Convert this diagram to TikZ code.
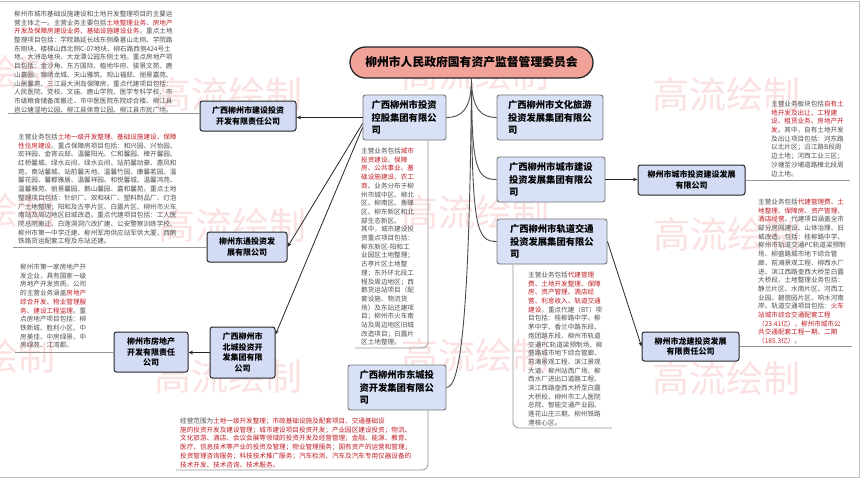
\documentclass[tikz,border=0pt]{standalone}
\usepackage{fontspec}
\setmainfont{Noto Sans CJK SC}
\usetikzlibrary{arrows.meta}
\definecolor{rootfill}{RGB}{242,163,153}
\definecolor{lonefill}{RGB}{216,225,246}
\definecolor{ltwofill}{RGB}{212,220,245}
\definecolor{desctext}{RGB}{80,80,80}
\definecolor{descred}{RGB}{192,30,38}
\definecolor{wmcol}{RGB}{251,226,226}
\definecolor{framegray}{RGB}{150,150,150}
\newcommand{\redtxt}[1]{\textcolor{descred}{#1}}
\begin{document}
\begin{tikzpicture}[x=1pt,y=-1pt,
 rootbox/.style={draw=black!85, line width=1.3pt, fill=rootfill, rounded corners=15.5pt, minimum width=243pt, minimum height=31pt, font=\fontsize{11.8}{14}\selectfont\bfseries, inner sep=0pt},
 lone/.style={draw=black!55, line width=0.9pt, fill=lonefill, rounded corners=2.5pt, align=left, inner sep=0pt, minimum height=45pt, font=\fontsize{9.3}{12.6}\selectfont\bfseries},
 ltwo/.style={draw=black!85, line width=1pt, fill=ltwofill, rounded corners=2.5pt, align=center, inner sep=0pt, font=\fontsize{8}{10.8}\selectfont\bfseries},
 desc/.style={anchor=north west, inner sep=0pt, align=left, text=desctext, font=\fontsize{6.6}{8.7}\selectfont},
 wm/.style={text=wmcol, font=\fontsize{37}{40}\selectfont, inner sep=0pt},
 arr/.style={draw=black!85, line width=0.8pt, -{Stealth[length=4.5pt,width=3.6pt]}},
 curve/.style={draw=black!70, line width=0.9pt},
 frame/.style={draw=framegray, line width=0.8pt}
]
\useasboundingbox (0,0) rectangle (861,479);
\fill[white] (0,0) rectangle (861,479);
% watermarks
\node[wm] (w11) at (-18,72) {高流绘制};
\node[wm] (w12) at (228,94) {高流绘制};
\node[wm] (w13) at (475,73) {高流绘制};
\node[wm] (w14) at (726,94) {高流绘制};
\node[wm] (w21) at (-18,210) {高流绘制};
\node[wm] (w22) at (232,225) {高流绘制};
\node[wm] (w23) at (475,212) {高流绘制};
\node[wm] (w24) at (727,234) {高流绘制};
\node[wm] (w31) at (-18,356) {高流绘制};
\node[wm] (w32) at (228,376) {高流绘制};
\node[wm] (w33) at (475,355) {高流绘制};
\node[wm] (w34) at (726,378) {高流绘制};
% outer border
\draw[black!25, line width=0.6pt] (0,1) -- (859,1) -- (859,477) -- (0,477);

% root
\node[rootbox] (root) at (471.5,62.5) {柳州市人民政府国有资产监督管理委员会};
% level one
\node[lone, text width=66pt, minimum width=83pt] (A) at (404.5,117.5) {广西柳州市投资\\控股集团有限公\\司};
\node[lone, text width=84pt, minimum width=106pt] (B) at (550,117.5) {广西柳州市文化旅游\\投资发展集团有限公\\司};
\node[lone, text width=84pt, minimum width=108pt] (C) at (551,179.5) {广西柳州市城市建设\\投资发展集团有限公\\司};
\node[lone, text width=84pt, minimum width=110pt] (D) at (552,241.5) {广西柳州市轨道交通\\投资发展集团有限公\\司};
\node[lone, text width=75pt, minimum width=98pt] (E) at (397,387.5) {广西柳州市东城投\\资开发集团有限公\\司};
% level two
\node[ltwo, minimum width=96pt, minimum height=30pt] (A1) at (248,116) {广西柳州市建设投资\\开发有限责任公司};
\node[ltwo, minimum width=80pt, minimum height=30pt] (A2) at (247,247) {柳州东通投资发\\展有限公司};
\node[ltwo, minimum width=65pt, minimum height=51pt] (A3) at (242.5,352.5) {广西柳州市\\北城投资开\\发集团有限\\公司};
\node[ltwo, minimum width=74pt, minimum height=40pt] (A3a) at (151,352) {柳州市房地产\\开发有限责任\\公司};
\node[ltwo, minimum width=107pt, minimum height=30pt] (C1) at (691.5,180) {柳州市城市投资建设发展\\有限公司};
\node[ltwo, minimum width=97pt, minimum height=29pt] (D1) at (690.5,346.5) {柳州市龙建投资发展\\有限责任公司};

% root connectors
\draw[curve] (root.south) .. controls +(0,32) and +(14,0) .. (A.east);
\draw[curve] (root.south) .. controls +(0,32) and +(-14,0) .. (B.west);
\draw[curve] (root.south) .. controls +(0,90) and +(-20,0) .. (C.west);
\draw[curve] (root.south) .. controls +(0,150) and +(-20,0) .. (D.west);
\draw[curve] (root.south) .. controls +(-2,240) and +(14,0) .. (E.east);
% child arrows
\draw[arr] (A.west) -- (A.west -| A1.east);
\draw[arr] ([yshift=-6pt]A.west) -- (A2.east);
\draw[arr] ([yshift=-10pt]A.west) -- ([yshift=18pt]A3.east);
\draw[arr] (A3.west) -- (A3.west -| A3a.east);
\draw[arr] (C.east) -- (C.east -| C1.west);
\draw[arr] (D.east) -- (D1.west);

% callout frames
\coordinate (t1end) at (8,113.5);
\draw[frame] (t1end) -- (t1end -| A1.west);
\coordinate (t2end) at (13,247);
\draw[frame] (t2end) -- (t2end -| A2.west);
\coordinate (t3end) at (15,352);
\draw[frame] (t3end) -- (t3end -| A3a.west);
\coordinate (tAend) at (355,348);
\draw[frame, rounded corners=6pt] ([xshift=23.5pt]A.south) |- (tAend);
\coordinate (tEend) at (176,470);
\draw[frame, rounded corners=6pt] ([xshift=31pt]E.south) |- (tEend);
\coordinate (tDend) at (612,428);
\draw[frame, rounded corners=6pt] ([xshift=-39pt]D.south) |- (tDend);
\coordinate (tBend) at (850,180);
\draw[frame] (C1.east) -- (tBend);
\coordinate (tCend) at (852,346.5);
\draw[frame] (D1.east) -- (tCend);

% descriptions
\node[desc] (tA1) at (14,10.7) {柳州市城市基础设施建设和土地开发整理项目的主要运\\
营主体之一。主营业务主要包括\redtxt{土地整理业务、房地产}\\
\redtxt{开发及保障房建设业务、基础设施建设业务}。重点土地\\
整理项目包括：学院路延长线东侧桑葚山北侧、学院路\\
东侧块、楼梯山西北侧C-07地块、柳石路西侧424号土\\
地、大洲岛地块、大龙潭公园东侧土地。重点房地产项\\
目包括：金沙角、东方国际、植地华府、骏景文苑、鹿\\
山嘉园、锦绣龙城、天山雅筑、观山福邸、丽景嘉苑、\\
山居馨苑、三江县大洲岛保障房。重点代建项目包括：\\
人民医院、党校、文庙、鹿山学院、医学专科学校、市\\
市级粮食储备库搬迁、市中医医院东院综合楼、柳江县\\
岜公塘湿地公园、柳江县体育公园、柳江县市民广场。};

\node[desc] (tA2) at (18,133.7) {主营业务包括\redtxt{土地一级开发整理、基础设施建设、保障}\\
\redtxt{性住房建设}。重点保障房项目包括：和兴园、兴怡园、\\
宏祥园、金宵云邸、温馨阳光、仁和馨园、樟开馨园、\\
红桥馨城、绿水云间、绿水云间、站前馨动豪、惠风和\\
苑、南站馨城、站前馨天地、温馨竹园、康馨茗园、温\\
馨花园、馨都雅居、温馨祥园、和悦馨城、温馨鸿苑、\\
温馨雅苑、丽景馨园、鹅山馨园、嘉和馨苑。重点土地\\
整理项目包括：针织厂、双和袜厂、塑料制品厂、灯泡\\
厂土地整理；阳和及古亭片区、白露片区、柳州市火车\\
南站及周边地区旧城改造。重点代建项目包括：工人医\\
院总院搬迁、白莲洞洞穴改扩建、公安警察训练学校、\\
柳州市第一中学迁建、柳州军用供应站军供大厦、西鹅\\
铁路货运配套工程及东站还建。};

\node[desc] (tA3a) at (20,263.7) {柳州市第一家房地产开\\
发企业，具有国家一级\\
房地产开发资质。公司\\
的主营业务涵盖\redtxt{房地产}\\
\redtxt{综合开发、物业管理服}\\
\redtxt{务、建设工程监理}。重\\
点房地产项目包括：柳\\
铁新城、胜利小区、中\\
房美佳、中房绿景、中\\
房绿苑、江湾郡。};

\node[desc] (tA) at (361,147.7) {主营业务包括\redtxt{城市}\\
\redtxt{投资建设、保障}\\
\redtxt{房、公共事业、基}\\
\redtxt{础设施建设、农工}\\
\redtxt{商}。业务分布于柳\\
州市城中区、柳北\\
区、柳南区、鱼峰\\
区、柳东新区和北\\
部生态新区。\\
其中，城市建设投\\
资重点项目包括：\\
柳东新区-阳和工\\
业园区土地整理；\\
古亭片区土地整\\
理；东外环北段工\\
程及周边地区；西\\
鹅货运站项目（配\\
套设施、物流货\\
场）及东站还建项\\
目；柳州市火车南\\
站及周边地区旧城\\
改造项目；白露片\\
区土地整理。};

\node[desc] (tC1) at (771,100.7) {主营业务板块包括\redtxt{自有土}\\
\redtxt{地开发及出让、工程建}\\
\redtxt{设、租赁业务、房地产开}\\
\redtxt{发}。其中，自有土地开发\\
及出让项目包括：河东路\\
以北片区；沿江路B段周\\
边土地；河西工业三区；\\
沙塘至沙埔道路樟北段周\\
边土地。};

\node[desc] (tD1) at (758,198.7) {主营业务包括\redtxt{代建管理费、土}\\
\redtxt{地整理、保障房、资产管理、}\\
\redtxt{酒店经营}。代建项目涵盖全市\\
部分房网建设、山体治理、旧\\
城改造。包括：桂柳路中学、\\
柳州市轨道交通PC轨道梁预制\\
场、柳盛路城市地下综合管\\
廊、前滩景观工程、柳西水厂\\
进、滨江西路壶西大桥至白露\\
大桥段。土地整理业务包括：\\
静兰片区、水南片区、河西工\\
业园、碧茵园片区、响水河南\\
岸。轨道交通项目包括：\redtxt{火车}\\
\redtxt{站城市综合交通配套工程}\\
\redtxt{（23.41亿），柳州市城市公}\\
\redtxt{共交通配套工程一期、二期}\\
\redtxt{（185.3亿）}。};

\node[desc] (tD) at (528,271.7) {主营业务包括\redtxt{代建管理}\\
\redtxt{费、土地开发整理、保障}\\
\redtxt{房、资产管理、酒店经}\\
\redtxt{营、利息收入、轨道交通}\\
\redtxt{建设}。重点代建（BT）项\\
目包括：桂柳路中学、柳\\
茅中学、香兰中路东段、\\
炮团路东段、柳州市轨道\\
交通PC轨道梁预制场、柳\\
盛路城市地下综合管廊、\\
前滩景观工程、滨江景观\\
大道、柳州站西广场、柳\\
西水厂进出口道路工程、\\
滨江西路壶西大桥至白露\\
大桥段、柳州市工人医院\\
总院、智能交通产业园、\\
莲花山庄三期、柳州铁路\\
港核心区。};

\node[desc] (tE) at (180,417.7) {经营范围为\redtxt{土地一级开发整理；市政基础设施及配套项目、交通基础设}\\
\redtxt{施的投资开发及建设管理；城市建设项目投资开发；产业园区建设投资；物流、}\\
\redtxt{文化旅游、酒店、会议会展等领域的投资开发及经营管理；金融、能源、教育、}\\
\redtxt{医疗、信息技术等产业的投资及管理；物业管理服务；国有资产的运营和管理；}\\
\redtxt{投资管理咨询服务；科技技术推广服务；汽车检测、汽车及汽车专用仪器设备的}\\
\redtxt{技术开发、技术咨询、技术服务。}};
\end{tikzpicture}
\end{document}
